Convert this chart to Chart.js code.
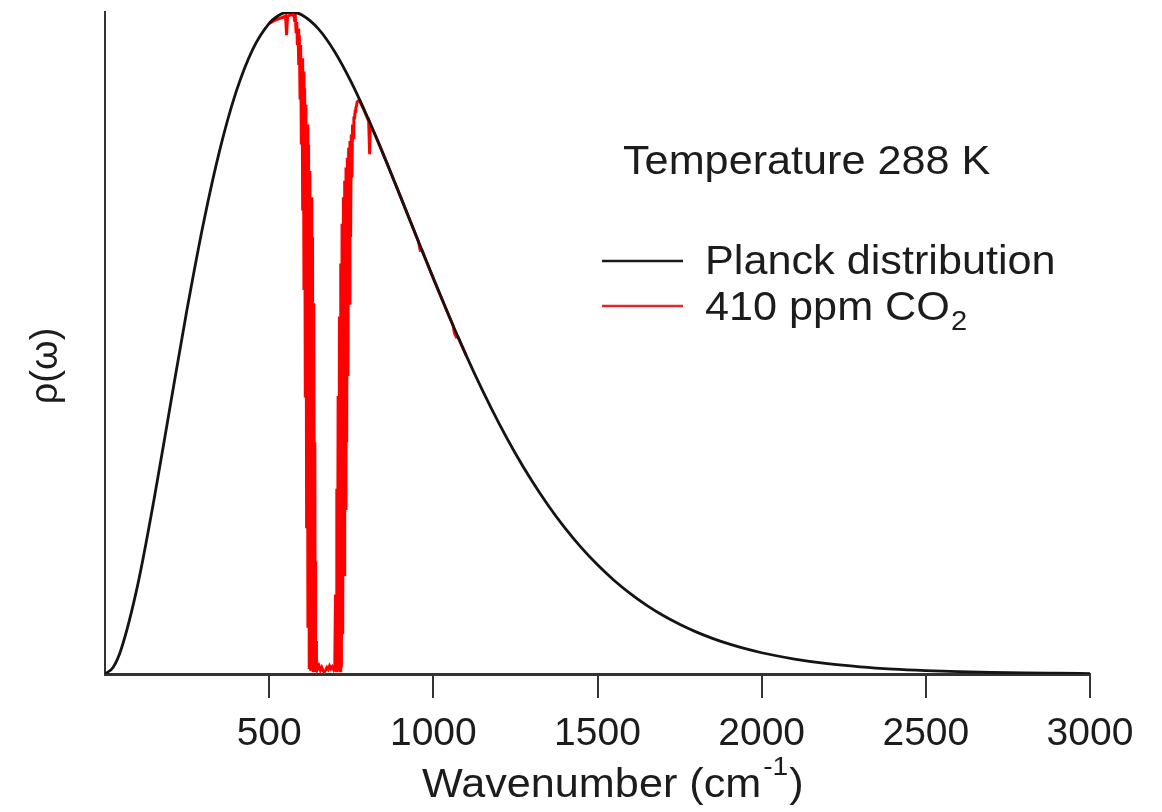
<!DOCTYPE html>
<html><head><meta charset="utf-8">
<script src="https://cdn.jsdelivr.net/npm/chart.js@4.4.0/dist/chart.umd.min.js"></script>
<style>html,body{margin:0;padding:0;background:#fff;}#wrap{width:1162px;height:812px;}</style>
</head><body><div id="wrap"><canvas id="c" width="1162" height="812"></canvas></div>
<script>
const planckWavenumber = [0,25,50,100,150,200,250,300,350,400,450,500,525,550,575,600,650,700,750,800,850,900,950,1000,1050,1100,1150,1200,1250,1300,1350,1400,1450,1500,1550,1600,1650,1700,1750,1800,1850,1900,1950,2000,2100,2200,2300,2400,2500,2600,2700,2800,2900,3000];
const planckValue = [0,0.0103,0.0386,0.1354,0.2654,0.4090,0.5512,0.6814,0.7925,0.8804,0.9437,0.9828,0.9936,0.9992,0.9996,0.9954,0.9745,0.9397,0.8941,0.8407,0.7822,0.7211,0.6589,0.5977,0.5381,0.4813,0.4280,0.3786,0.3331,0.2918,0.2545,0.2210,0.1912,0.1649,0.1417,0.1214,0.1037,0.0883,0.0751,0.0636,0.0538,0.0454,0.0382,0.0321,0.0226,0.0157,0.0109,0.0075,0.0052,0.0035,0.0024,0.0016,0.0011,0.0007];

const co2Wavenumber = [500,515,530,542,550,553,556,562,568,572,
 576,578,580,582,584,586,588,590,592,594,596,598,600,602,604,606,608,610,612,614,616,618,620,622,624,626,628,630,632,634,636,638,639,640,641,642,643,644,646,
 648,652,656,660,664,668,672,676,680,684,688,692,696,698,
 700,702,704,706,708,710,712,714,716,718,720,722,724,726,728,730,732,734,736,738,740,742,744,746,748,750,752,754,756,758,760,762,764,766,768,
 772,776,780,786,792,798,803,806,808,812,825,850,875,900,925,950,955,960,965,975,1000,1025,1050,1060,1065,1070,1075,1100];
const co2Value = [0.9828,0.987,0.990,0.992,0.994,0.965,0.994,0.995,0.996,0.995,
 0.995,0.985,0.99,0.97,0.985,0.95,0.975,0.92,0.965,0.87,0.95,0.80,0.93,0.70,0.91,0.58,0.885,0.42,0.86,0.22,0.83,0.07,0.80,0.01,0.76,0.005,0.72,0.005,0.66,0.005,0.56,0.005,0.35,0.005,0.17,0.005,0.05,0.005,0.015,
 0.008,0.012,0.006,0.010,0.005,0.003,0.006,0.010,0.007,0.012,0.008,0.011,0.007,0.010,
 0.02,0.12,0.005,0.28,0.005,0.42,0.005,0.54,0.005,0.62,0.01,0.68,0.06,0.72,0.15,0.745,0.25,0.765,0.35,0.78,0.45,0.795,0.56,0.805,0.66,0.815,0.75,0.83,0.81,0.84,0.84,0.85,0.855,0.858,0.864,
 0.866,0.866,0.861,0.855,0.848,0.841,0.835,0.785,0.831,0.826,0.8121,0.7822,0.7519,0.7211,0.6900,0.6589,0.6527,0.640,0.6405,0.6281,0.5977,0.5676,0.5381,0.5265,0.514,0.509,0.5093,0.4813];

const xTickValues = [500,1000,1500,2000,2500,3000];
const seriesLabels = ['Planck distribution', '410 ppm CO'];
const seriesSubscript = ['', '2'];
const annotationText = 'Temperature 288 K';
const xTitleMain = 'Wavenumber (cm';
const xTitleSup = '-1';
const xTitleEnd = ')';
const yTitle = 'ρ(ω)';

const FONT = '"Liberation Sans", Arial, Helvetica, sans-serif';
const TEXT = '#1c1c1c';

function txt(ctx, s, x, y, size, sx) {
  ctx.save();
  ctx.translate(x, y);
  ctx.scale(sx, 1);
  ctx.font = size + 'px ' + FONT;
  ctx.fillStyle = TEXT;
  ctx.textBaseline = 'alphabetic';
  ctx.textAlign = 'left';
  ctx.fillText(s, 0, 0);
  const w = ctx.measureText(s).width * sx;
  ctx.restore();
  return w;
}

const textPlugin = {
  id: 'texts',
  afterDraw(chart) {
    const ctx = chart.ctx;
    const SX = 1.08;
    txt(ctx, annotationText, 623, 174, 40, SX);
    const lineColors = ['#1a1a1a', '#e3262c'];
    const ys = [261, 306];
    const bases = [274, 320];
    for (let i = 0; i < seriesLabels.length; i++) {
      ctx.save();
      ctx.strokeStyle = lineColors[i];
      ctx.lineWidth = 2.5;
      ctx.beginPath();
      ctx.moveTo(602, ys[i]);
      ctx.lineTo(683, ys[i]);
      ctx.stroke();
      ctx.restore();
      const w = txt(ctx, seriesLabels[i], 705, bases[i], 40, SX);
      if (seriesSubscript[i]) txt(ctx, seriesSubscript[i], 705 + w + 1, bases[i] + 10, 27, SX);
    }
    let x = 422;
    x += txt(ctx, xTitleMain, x, 797, 40, SX);
    x += 2;
    x += txt(ctx, xTitleSup, x, 775, 26, SX);
    x += 1;
    txt(ctx, xTitleEnd, x, 797, 40, SX);
    ctx.save();
    ctx.translate(57, 366);
    ctx.rotate(-Math.PI / 2);
    ctx.font = '38px ' + FONT;
    ctx.fillStyle = TEXT;
    ctx.textAlign = 'center';
    ctx.textBaseline = 'alphabetic';
    ctx.fillText(yTitle, 0, 0);
    ctx.restore();
  }
};

new Chart(document.getElementById('c'), {
  type: 'line',
  data: {
    datasets: [
      {
        label: seriesLabels[0],
        data: planckWavenumber.map((v, i) => ({ x: v, y: planckValue[i] })),
        borderColor: '#141414',
        borderWidth: 2.8,
        pointRadius: 0,
        cubicInterpolationMode: 'monotone',
        fill: false,
        order: 0
      },
      {
        label: seriesLabels[1] + '2',
        data: co2Wavenumber.map((v, i) => ({ x: v, y: co2Value[i] })),
        borderColor: '#ff0000',
        borderWidth: 3,
        pointRadius: 0,
        tension: 0,
        fill: false,
        order: 1
      }
    ]
  },
  options: {
    responsive: false,
    animation: false,
    devicePixelRatio: 1,
    layout: { padding: { left: 0, right: 72, top: 12, bottom: 0 } },
    plugins: { legend: { display: false }, tooltip: { enabled: false } },
    scales: {
      x: {
        type: 'linear', min: 0, max: 3000,
        afterBuildTicks: (s) => { s.ticks = xTickValues.map(v => ({ value: v })); },
        afterFit: (s) => { s.height = 138; },
        grid: { display: true, drawOnChartArea: false, drawTicks: true, tickLength: 24, color: '#333', lineWidth: 2 },
        border: { display: true, color: '#333', width: 3 },
        ticks: { font: { family: FONT, size: 39 }, color: '#1c1c1c', padding: 13, maxRotation: 0, autoSkip: false,
                 callback: (v) => String(v) }
      },
      y: {
        type: 'linear', min: 0, max: 1,
        afterFit: (s) => { s.width = 105; },
        ticks: { display: false },
        grid: { display: false },
        border: { display: true, color: '#333', width: 2 }
      }
    }
  },
  plugins: [textPlugin]
});
</script>
</body></html>
